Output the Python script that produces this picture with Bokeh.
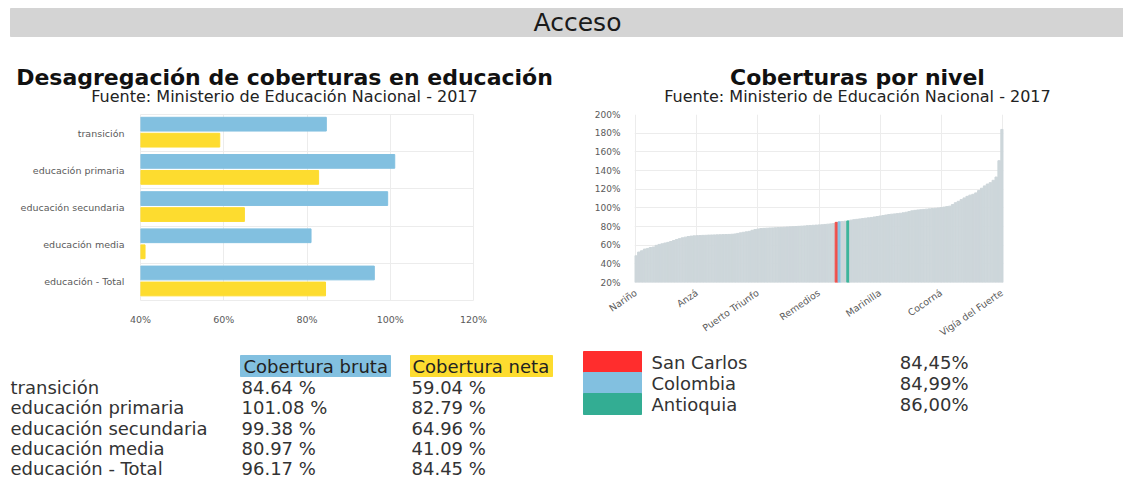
from bokeh.plotting import figure
from bokeh.layouts import column, row
from bokeh.models import Range1d, FixedTicker, ColumnDataSource, PrintfTickFormatter
from bokeh.core.properties import value
from bokeh.embed import file_html
from bokeh.resources import INLINE

FONT = "DejaVu Sans"

# ---------------- data ----------------
page_title = "Acceso"
left_title = "Desagregación de coberturas en educación"
right_title = "Coberturas por nivel"
source_note = "Fuente: Ministerio de Educación Nacional - 2017"

niveles = ["transición", "educación primaria", "educación secundaria",
           "educación media", "educación - Total"]
cobertura_bruta = [84.64, 101.08, 99.38, 80.97, 96.17]
cobertura_neta = [59.04, 82.79, 64.96, 41.09, 84.45]
series_names = ["Cobertura bruta", "Cobertura neta"]
left_x_ticks = [40, 60, 80, 100, 120]

# coverage by municipality (sorted ascending)
mun_values = [
    48.6, 52.6, 54.0, 55.8, 56.5, 57.5, 58.0, 59.8, 60.8, 61.5,
    62.3, 63.0, 63.9, 65.0, 66.1, 67.0, 67.9, 68.6, 69.3, 69.7,
    70.0, 70.2, 70.3, 70.5, 70.6, 70.8, 70.9, 71.0, 71.1, 71.2,
    71.3, 71.4, 71.5, 71.7, 72.0, 72.6, 73.2, 73.8, 74.3, 74.8,
    75.9, 76.7, 77.3, 77.8, 78.0, 78.2, 78.4, 78.5, 78.7, 78.9,
    79.0, 79.2, 79.4, 79.6, 79.8, 80.0, 80.2, 80.4, 80.6, 80.9,
    81.1, 81.3, 81.5, 81.7, 81.9, 82.2, 82.5, 82.8, 83.2,
    84.45, 84.99, 85.3, 85.7, 86.00,
    86.8, 87.3, 87.7, 88.1, 88.5, 88.9, 89.3, 89.7, 90.2, 90.7,
    91.2, 91.7, 92.3, 92.8, 93.2, 93.5, 93.8, 94.2, 94.7, 95.3,
    96.0, 96.8, 97.3, 97.7, 98.0, 98.3, 98.6, 98.9, 99.2, 99.5,
    99.9, 100.3, 100.8, 101.3, 101.8,
    103.5, 105.5, 107.0, 108.8, 110.6, 112.3, 113.6, 114.5, 116.0, 118.5,
    121.0, 123.5, 125.5, 127.0, 129.5, 133.0,
    150.5, 184.0,
]
assert len(mun_values) == 127
mun_tick_idx = [0, 21, 42, 63, 84, 105, 126]
mun_tick_labels = ["Nariño", "Anzá", "Puerto Triunfo", "Remedios",
                   "Marinilla", "Cocorná", "Vigía del Fuerte"]
right_y_ticks = [20, 40, 60, 80, 100, 120, 140, 160, 180, 200]

ref_names = ["San Carlos", "Colombia", "Antioquia"]
ref_idx = [69, 70, 73]
ref_values = [84.45, 84.99, 86.00]

# ---------------- styles ----------------
BLUE = "#82c0e0"
YELLOW = "#fddc2f"
GRAY_BAR = "#cdd6da"
LEG_COLORS = ["#ff2d2d", BLUE, "#33ad93"]
BAR_HL_COLORS = ["#ef4f4a", "#88c3e3", "#3fb59c"]
TXT = "#333333"
GRID = "#ececec"

W = 1123
H_HEAD = 105
H_CHART = 245
H_BOTTOM = 480 - H_HEAD - H_CHART
W_L = 568
W_R = W - W_L


def canvas(width, height):
    f = figure(width=width, height=height, x_range=Range1d(0, width),
               y_range=Range1d(height, 0), output_backend="svg",
               toolbar_location=None, x_axis_type=None, y_axis_type=None,
               min_border=0)
    f.grid.visible = False
    f.outline_line_color = None
    return f


def style_axes(f, size):
    for ax in f.axis:
        ax.axis_line_color = None
        ax.major_tick_line_color = None
        ax.minor_tick_line_color = None
        ax.major_label_text_font = FONT
        ax.major_label_text_font_size = size
        ax.major_label_text_color = "#5a5a5a"


# ---------------- header ----------------
ph = canvas(W, H_HEAD)
ph.quad(left=[10], right=[W], top=[8], bottom=[36], color="#d4d4d4")
ph.text(x=[577], y=[22], text=[page_title], text_font=value(FONT),
        text_font_size="25px", text_align="center", text_baseline="middle",
        text_color="#1a1a1a")
ph.text(x=[284, 857], y=[77, 77], text=[left_title, right_title],
        text_font=value(FONT), text_font_size="22px", text_font_style="bold",
        text_align="center", text_baseline="middle", text_color="#111111")
ph.text(x=[284, 857], y=[96, 96], text=[source_note, source_note],
        text_font=value(FONT), text_font_size="16px",
        text_align="center", text_baseline="middle", text_color="#222222")

# ---------------- left chart ----------------
n = len(niveles)
ypos = [n - 1 - i for i in range(n)]
src_l = ColumnDataSource(dict(
    yb=[y + 0.24 for y in ypos], yn=[y - 0.19 for y in ypos],
    bruta=cobertura_bruta, neta=cobertura_neta,
    base=[left_x_ticks[0]] * n))
pl = figure(width=W_L, height=H_CHART, x_range=Range1d(left_x_ticks[0], left_x_ticks[-1]),
            y_range=Range1d(-0.5, n - 0.5), output_backend="svg",
            toolbar_location=None, min_border_left=140, min_border_right=W_L - 140 - 333,
            min_border_top=9, min_border_bottom=H_CHART - 9 - 186)
pl.hbar(y="yb", left="base", right="bruta", height=0.37, color=BLUE, source=src_l)
pl.hbar(y="yn", left="base", right="neta", height=0.37, color=YELLOW, source=src_l)
pl.xaxis.ticker = FixedTicker(ticks=left_x_ticks)
pl.xaxis.formatter = PrintfTickFormatter(format="%d%%")
pl.yaxis.ticker = FixedTicker(ticks=ypos)
pl.yaxis.major_label_overrides = {y: lab for y, lab in zip(ypos, niveles)}
pl.xgrid.ticker = FixedTicker(ticks=left_x_ticks)
pl.ygrid.ticker = FixedTicker(ticks=[i + 0.5 for i in range(n - 1)])
pl.grid.grid_line_color = GRID
pl.outline_line_color = GRID
style_axes(pl, "9.5px")
pl.xaxis.major_label_standoff = 7
pl.yaxis.major_label_standoff = 10

# ---------------- right chart ----------------
nm = len(mun_values)
colors = [GRAY_BAR] * nm
for i, c in zip(ref_idx, BAR_HL_COLORS):
    colors[i] = c
src_r = ColumnDataSource(dict(x=list(range(nm)), top=mun_values,
                              bottom=[right_y_ticks[0]] * nm, color=colors))
pr = figure(width=W_R, height=H_CHART, x_range=Range1d(-0.5, nm - 0.5),
            y_range=Range1d(right_y_ticks[0], right_y_ticks[-1]),
            output_backend="svg", toolbar_location=None,
            min_border_left=66, min_border_right=W_R - 66 - 369,
            min_border_top=9, min_border_bottom=H_CHART - 9 - 168)
pr.vbar(x="x", top="top", bottom="bottom", width=0.86, color="color", source=src_r)
pr.xaxis.ticker = FixedTicker(ticks=mun_tick_idx)
pr.xaxis.major_label_overrides = {i: lab for i, lab in zip(mun_tick_idx, mun_tick_labels)}
pr.xaxis.major_label_orientation = 0.6
pr.yaxis.ticker = FixedTicker(ticks=right_y_ticks)
pr.yaxis.formatter = PrintfTickFormatter(format="%d%%")
pr.xgrid.ticker = FixedTicker(ticks=mun_tick_idx)
pr.ygrid.ticker = FixedTicker(ticks=right_y_ticks)
pr.grid.grid_line_color = GRID
pr.outline_line_color = None
style_axes(pr, "9px")
pr.xaxis.major_label_text_font_size = "9.5px"
pr.xaxis.major_label_standoff = 3
pr.yaxis.major_label_standoff = 8

# ---------------- table (left, below chart) ----------------
pt = canvas(W_L, H_BOTTOM)
hdr_top, hdr_bot = 5, 26
row_y0, row_dy = 37, 20.25
col_x = [10, 241, 411]
pt.quad(left=[240, 410], right=[390, 552], top=[hdr_top] * 2, bottom=[hdr_bot] * 2,
        color=[BLUE, YELLOW])
pt.text(x=[col_x[1] + 2, col_x[2] + 1], y=[(hdr_top + hdr_bot) / 2] * 2, text=series_names,
        text_font=value(FONT), text_font_size="18px", text_baseline="middle",
        text_color="#222222")
rows_y = [row_y0 + i * row_dy for i in range(n)]
for x, labels in zip(col_x, [niveles,
                             [f"{v:.2f} %" for v in cobertura_bruta],
                             [f"{v:.2f} %" for v in cobertura_neta]]):
    pt.text(x=[x] * n, y=rows_y, text=labels, text_font=value(FONT),
            text_font_size="18px", text_baseline="middle", text_color=TXT)

# ---------------- legend (right, below chart) ----------------
pg = canvas(W_R, H_BOTTOM)
k = len(ref_names)
leg_top = [1 + i * 21 for i in range(k)]
pg.quad(left=[15] * k, right=[73] * k, top=leg_top, bottom=[t + 21 for t in leg_top],
        color=LEG_COLORS)
pg.text(x=[83] * k, y=[t + 10.5 for t in leg_top], text=ref_names, text_font=value(FONT),
        text_font_size="18px", text_baseline="middle", text_color=TXT)
pg.text(x=[400] * k, y=[t + 10.5 for t in leg_top],
        text=[f"{v:.2f}".replace(".", ",") + "%" for v in ref_values],
        text_font=value(FONT), text_font_size="18px", text_baseline="middle",
        text_align="right", text_color=TXT)

layout = column(ph, row(column(pl), column(pr)), row(pt, pg))
open("out.html", "w").write(file_html(layout, INLINE))
